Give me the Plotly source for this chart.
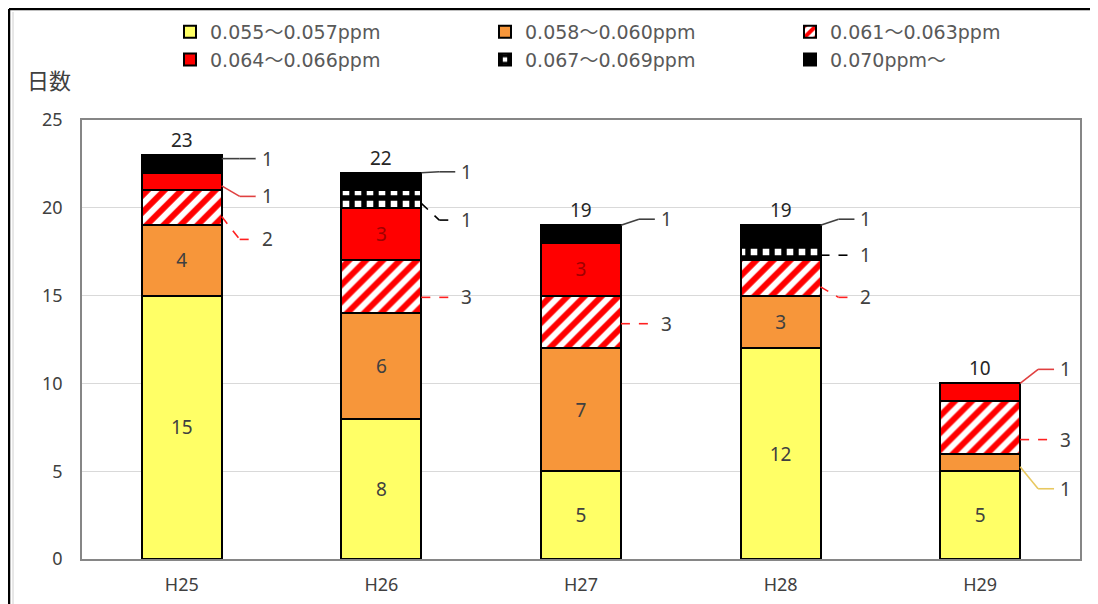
import plotly.graph_objects as go

# ---------------- data ----------------
categories = ["H25", "H26", "H27", "H28", "H29"]
series_names = ["0.055～0.057ppm", "0.058～0.060ppm", "0.061～0.063ppm",
                "0.064～0.066ppm", "0.067～0.069ppm", "0.070ppm～"]
v_055_057 = [15, 8, 5, 12, 5]
v_058_060 = [4, 6, 7, 3, 1]
v_061_063 = [2, 3, 3, 2, 3]
v_064_066 = [1, 3, 3, 0, 1]
v_067_069 = [0, 1, 0, 1, 0]
v_070_up = [1, 1, 1, 1, 0]
series_values = [v_055_057, v_058_060, v_061_063, v_064_066, v_067_069, v_070_up]
y_ticks = [0, 5, 10, 15, 20, 25]

# ---------------- styling ----------------
FONT = "Noto Sans, Noto Sans CJK JP, sans-serif"
LFONT = "DejaVu Sans, Noto Sans CJK JP, sans-serif"
TXT = "#404040"
fills = ["#FFFF66", "#F7963A", "#FFFFFF", "#FF0000", "#000000", "#000000"]
patterns = [None, None,
            dict(shape="/", fgcolor="#FF0000", bgcolor="#FFFFFF", size=12, solidity=0.5,
                 fgopacity=1, fillmode="replace"),
            None,
            dict(shape="+", fgcolor="#000000", bgcolor="#FFFFFF", size=12, solidity=0.7,
                 fgopacity=1, fillmode="replace"),
            None]
inside_label = [True, True, False, True, False, False]
inside_color = [TXT, TXT, TXT, "#A00000", TXT, TXT]
leader_color = ["#E8C860", "#E8C860", "#FF2020", "#E04040", "#000000", "#404040"]
leader_dash = ["solid", "solid", "dash", "solid", "dash", "solid"]
legend_of = ["legend", "legend2", "legend3", "legend", "legend2", "legend3"]

# positions (data units) of labels placed to the right of the bars: (series, category) -> y
outside_label_y = {
    (5, 0): 22.8, (3, 0): 20.65, (2, 0): 18.2,
    (5, 1): 22.05, (4, 1): 19.3, (2, 1): 14.9,
    (5, 2): 19.35, (2, 2): 13.4,
    (5, 3): 19.35, (4, 3): 17.3, (2, 3): 14.9,
    (3, 4): 10.8, (2, 4): 6.8, (1, 4): 4.0,
}

# the page has an 8px body margin, so the figure is 8px smaller than the window
W, H = 1090, 596
ML, MR, MT, MB = 74, 18, 112, 45
PW, PH = W - ML - MR, H - MT - MB


def px_x(px):
    return (px - ML) / PW


def px_y(py):
    return (H - MB - py) / PH


BAR_W = 0.4

fig = go.Figure()
for s, (name, vals) in enumerate(zip(series_names, series_values)):
    texts = [str(v) if (inside_label[s] and v >= 3) else "" for v in vals]
    marker = dict(color=fills[s], line=dict(color="#000000", width=2))
    if patterns[s] is not None:
        marker["pattern"] = patterns[s]
    fig.add_trace(go.Bar(
        x=categories, y=vals, name=name, width=BAR_W, marker=marker,
        text=texts, textposition="inside", insidetextanchor="middle",
        textangle=0, textfont=dict(family=FONT, size=19, color=inside_color[s]),
        legend=legend_of[s], hoverinfo="x+y+name",
    ))

# totals above bars
totals = [sum(col) for col in zip(*series_values)]
for i, t in enumerate(totals):
    fig.add_annotation(x=i, y=t, text=str(t), showarrow=False, yanchor="bottom",
                       yshift=0, font=dict(family=FONT, size=19, color="#262626"))

# outside labels with leader lines
shapes = []
for i in range(len(categories)):
    cum = 0
    top_series = max(s for s in range(len(series_values)) if series_values[s][i] > 0)
    for s in range(len(series_values)):
        v = series_values[s][i]
        lo, hi = cum, cum + v
        cum = hi
        if (s, i) not in outside_label_y:
            continue
        ly = outside_label_y[(s, i)]
        mid = (lo + hi) / 2
        upper = hi if s == top_series else mid + 0.25 * v
        sy = min(max(ly, mid - 0.25 * v), upper)
        xe = i + BAR_W / 2
        line = dict(color=leader_color[s], width=1.6, dash=leader_dash[s])
        shapes.append(dict(type="line", xref="x", yref="y", x0=xe, y0=sy,
                           x1=xe + 0.09, y1=ly, line=line, layer="above"))
        shapes.append(dict(type="line", xref="x", yref="y", x0=xe + 0.09, y0=ly,
                           x1=xe + 0.17, y1=ly, line=line, layer="above"))
        fig.add_annotation(x=xe + 0.19, y=ly, text=str(v), showarrow=False,
                           xanchor="left", yanchor="middle",
                           font=dict(family=FONT, size=19, color=TXT))

# outer frame of the picture (left and top edges)
shapes.append(dict(type="line", xref="paper", yref="paper", x0=px_x(1), y0=px_y(1),
                   x1=px_x(W + 5), y1=px_y(1), line=dict(color="#000000", width=2.5)))
shapes.append(dict(type="line", xref="paper", yref="paper", x0=px_x(1), y0=px_y(1),
                   x1=px_x(1), y1=px_y(H + 5), line=dict(color="#000000", width=2.5)))
shapes.append(dict(type="line", xref="paper", yref="paper", x0=px_x(5), y0=px_y(4),
                   x1=px_x(5), y1=px_y(H + 5), line=dict(color="#D0D0D0", width=1)))

# y-axis title
fig.add_annotation(xref="paper", yref="paper", x=px_x(17), y=px_y(71), text="日数",
                   showarrow=False, xanchor="left", yanchor="middle",
                   font=dict(family="Noto Sans CJK JP", size=22, color=TXT))

legend_common = dict(orientation="v", traceorder="normal", bgcolor="rgba(0,0,0,0)",
                     font=dict(family=LFONT, size=19, color="#595959"),
                     xanchor="left", yanchor="top", itemwidth=30,
                     itemclick=False, itemdoubleclick=False)

fig.update_layout(
    width=W, height=H,
    margin=dict(l=ML, r=MR, t=MT, b=MB, autoexpand=False),
    barmode="stack",
    paper_bgcolor="#FFFFFF", plot_bgcolor="#FFFFFF",
    font=dict(family=FONT, color=TXT),
    shapes=shapes,
    legend=dict(x=px_x(162), y=px_y(5), **legend_common),
    legend2=dict(x=px_x(477), y=px_y(5), **legend_common),
    legend3=dict(x=px_x(782), y=px_y(5), **legend_common),
    xaxis=dict(type="category", range=[-0.5, 4.5], showline=True, mirror=True,
               linecolor="#868686", linewidth=1.5, ticks="",
               tickfont=dict(family=FONT, size=18, color=TXT), ticklabelstandoff=9),
    yaxis=dict(range=[0, 25], tickvals=y_ticks, showline=True, mirror=True,
               linecolor="#868686", linewidth=1.5, showgrid=True, gridcolor="#D9D9D9",
               gridwidth=1, zeroline=False, ticks="",
               tickfont=dict(family=FONT, size=18, color=TXT), ticklabelstandoff=14),
)

fig.write_html("out.html")
